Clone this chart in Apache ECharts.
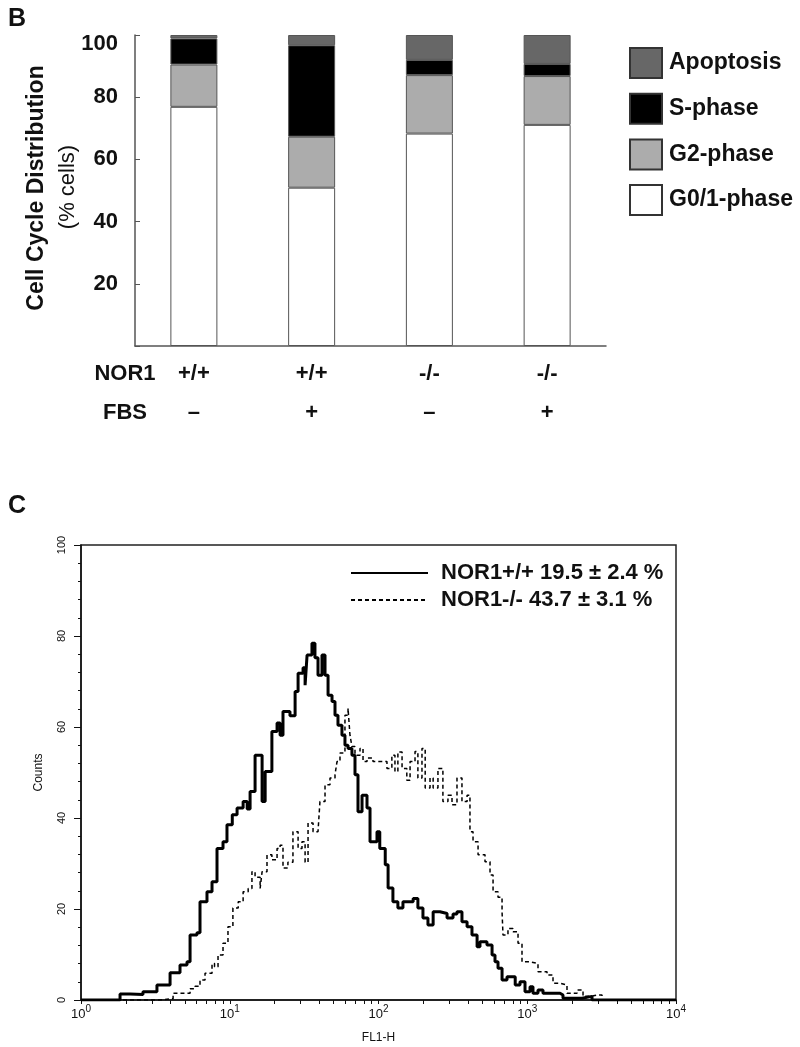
<!DOCTYPE html>
<html>
<head>
<meta charset="utf-8">
<style>
  html, body { margin: 0; padding: 0; background: #fff; }
  #chart { width: 800px; height: 1047px; }
</style>
<script src="https://cdn.jsdelivr.net/npm/echarts@6/dist/echarts.min.js"></script>
</head>
<body>
<div id="chart"></div>
<script>
// ---- panel B: cell cycle distribution (% cells) ----
const groups = ['wt-', 'wt+', 'ko-', 'ko+'];
const nor1Labels = ['+/+', '+/+', '-/-', '-/-'];
const fbsLabels = ['–', '+', '–', '+'];
const g01Phase = [76.9, 50.9, 68.3, 71.1];
const g2Phase = [13.6, 16.4, 18.8, 15.7];
const sPhase = [8.4, 29.4, 4.9, 3.9];
const apoptosis = [1.1, 3.3, 8.0, 9.3];

// ---- panel C: FL1-H histograms, [FL1-H, counts] ----
const nor1WtName = 'NOR1+/+ 19.5 ± 2.4 %';
const nor1KoName = 'NOR1-/- 43.7 ± 3.1 %';
const nor1Wt = [
  [1, 0], [1.83, 1.3], [2.14, 1.2], [2.61, 1.8], [3.24, 3.3], [3.97, 6.0], [4.63, 7.7],
  [5.16, 8.4], [5.41, 14.3], [6.02, 14.8], [6.31, 21.6], [7.03, 23.8], [7.6, 26.0],
  [8.21, 33.3], [9.01, 34.8], [9.58, 38.5], [10.4, 40.7], [11.2, 42.2], [12.3, 43.6],
  [13.1, 42.0], [13.7, 45.8], [14.8, 53.8], [16.5, 43.6], [17.3, 50.2], [19.2, 59.0],
  [20.8, 60.9], [21.8, 58.2], [22.8, 63.4], [25.4, 62.5], [27.5, 67.8], [28.8, 71.8],
  [31.1, 73.0], [32.1, 69.2], [33.1, 75.8], [35.7, 78.4], [37.4, 75.2], [39.2, 71.4],
  [41.7, 75.8], [43.7, 71.4], [45.8, 67.0], [48.7, 65.6], [51.0, 62.6], [53.4, 60.4],
  [56.8, 58.2], [59.5, 56.0], [62.4, 55.3], [66.3, 53.8], [69.5, 49.5], [72.8, 41.4],
  [77.5, 45.0], [83.7, 42.2], [87.7, 34.8], [97.7, 37.0], [102, 33.3], [111, 29.7],
  [116, 24.6], [125, 21.6], [135, 20.2], [146, 21.6], [171, 22.3], [184, 20.2],
  [199, 18.0], [215, 16.5], [233, 19.4], [259, 19.0], [289, 18.0], [317, 18.9],
  [337, 19.4], [364, 17.2], [394, 16.1], [425, 14.3], [460, 11.7], [481, 12.8],
  [536, 12.1], [580, 9.9], [607, 8.4], [636, 7.0], [677, 4.4], [731, 5.1], [802, 5.1],
  [830, 3.3], [894, 4.0], [966, 1.8], [1044, 2.9], [1093, 1.5], [1181, 2.2], [1276, 1.5],
  [1661, 1.1], [1739, 0.4], [2334, 0], [2371, 0.8], [2725, 0], [10000, 0]
];
const nor1Ko = [
  [1, 0], [3.4, 0.3], [4.16, 1.5], [4.63, 1.5], [5.41, 2.5], [5.84, 3.0], [6.31, 4.4],
  [6.82, 5.9], [7.6, 8.0], [7.9, 7.3], [8.34, 9.9], [9.01, 12.5], [9.73, 16.1],
  [10.5, 20.2], [11.4, 21.6], [12.3, 23.8], [13.3, 24.5], [14.1, 28.2], [14.8, 27.0],
  [16.0, 24.5], [16.5, 28.2], [17.8, 31.9], [19.2, 30.8], [20.8, 33.3], [21.8, 34.0],
  [22.8, 29.0], [24.6, 30.3], [26.6, 37.0], [28.8, 33.3], [30.6, 34.8], [32.1, 30.3],
  [33.6, 38.9], [36.3, 37.0], [39.2, 36.6], [40.4, 43.6], [43.7, 47.3], [47.2, 48.8],
  [51.0, 49.5], [52.6, 52.4], [55.1, 54.3], [59.5, 62.6], [62.4, 64.1], [64.3, 58.2],
  [66.3, 55.7], [69.5, 53.8], [75.1, 55.3], [78.7, 52.4], [83.7, 53.2], [91.8, 52.4],
  [102, 52.4], [114, 50.9], [123, 53.8], [129, 50.2], [135, 54.5], [144, 50.9],
  [155, 48.3], [163, 52.4], [176, 54.6], [184, 48.8], [196, 55.3], [206, 46.6],
  [222, 48.8], [233, 46.6], [251, 50.9], [271, 43.6], [293, 45.0], [312, 42.9],
  [337, 48.8], [364, 43.6], [394, 45.0], [412, 37.0], [432, 34.8], [467, 31.9],
  [520, 30.4], [562, 27.5], [589, 23.8], [636, 22.6], [677, 19.4], [687, 14.3],
  [742, 15.7], [802, 15.0], [867, 12.5], [922, 8.4], [1044, 8.0], [1181, 6.2],
  [1358, 5.5], [1490, 3.7], [1661, 3.3], [1850, 1.5], [2160, 2.2], [2371, 0.8],
  [2642, 1.1], [2989, 1.1], [3181, 0], [10000, 0]
];

// log minor ticks 1..9 per decade
const logTicks = [];
for (const d of [1, 10, 100, 1000]) {
  for (let m = 1; m < 10; m++) logTicks.push(d * m);
}
logTicks.push(10000);

const FONT = '"Liberation Sans", Arial, Helvetica, sans-serif';

const chart = echarts.init(document.getElementById('chart'));

function txt(text, x, y, size, weight, rot) {
  return {
    type: 'text', x: x, y: y, rotation: rot || 0,
    style: {
      text: text, fill: '#111', font: weight + ' ' + size + 'px ' + FONT,
      align: 'center', verticalAlign: 'middle',
      textAlign: 'center', textVerticalAlign: 'middle'
    }
  };
}

const barStyle = (color) => ({ color: color, borderColor: '#555', borderWidth: 1 });

const option = {
  animation: false,
  backgroundColor: '#fff',
  textStyle: { fontFamily: FONT },
  grid: [
    { left: 135, right: 194, top: 35, height: 311 },
    { left: 81, right: 124, top: 545, height: 455, show: true, borderColor: '#222', borderWidth: 1.5 }
  ],
  legend: [
    {
      data: ['Apoptosis', 'S-phase', 'G2-phase', 'G0/1-phase'],
      orient: 'vertical', left: 624, top: 42,
      itemWidth: 32, itemHeight: 30, itemGap: 13.7,
      icon: 'rect',
      itemStyle: { borderColor: '#333', borderWidth: 2 },
      textStyle: { fontSize: 23, fontWeight: 'bold', color: '#111', padding: [0, 0, 0, 2] }
    },
    {
      data: [nor1WtName, nor1KoName],
      orient: 'vertical', left: 345, top: 557,
      itemWidth: 77, itemHeight: 23, itemGap: 5,
      itemStyle: { opacity: 0 },
      textStyle: { fontSize: 22, fontWeight: 'bold', color: '#111', padding: [0, 0, 0, 8] }
    }
  ],
  xAxis: [
    {
      type: 'category', gridIndex: 0, data: groups,
      axisLine: { lineStyle: { color: '#555', width: 1.5 } },
      axisTick: { inside: true, length: 5, lineStyle: { color: '#555' } },
      axisLabel: {
        margin: 8, fontSize: 22, fontWeight: 'bold', color: '#111', lineHeight: 39,
        formatter: (v, i) => nor1Labels[i] + '\n' + fbsLabels[i]
      }
    },
    {
      type: 'log', gridIndex: 1, logBase: 10, min: 1, max: 10000,
      name: 'FL1-H', nameLocation: 'middle', nameGap: 32,
      nameTextStyle: { fontSize: 12, color: '#111' },
      axisLine: { lineStyle: { color: '#111', width: 1.5 } },
      axisTick: { length: 4, customValues: logTicks, lineStyle: { color: '#111' } },
      splitLine: { show: false },
      axisLabel: {
        margin: 4, color: '#111',
        formatter: (v) => '{b|10}{s|' + Math.round(Math.log10(v)) + '}',
        rich: {
          b: { fontSize: 13, color: '#111', verticalAlign: 'bottom' },
          s: { fontSize: 10, color: '#111', verticalAlign: 'bottom', padding: [0, 0, 7, 0] }
        }
      }
    }
  ],
  yAxis: [
    {
      type: 'value', gridIndex: 0, min: 0, max: 100, interval: 20,
      axisLine: { show: true, lineStyle: { color: '#555', width: 1.5 } },
      axisTick: { show: true, inside: true, length: 5, lineStyle: { color: '#555' } },
      splitLine: { show: false },
      axisLabel: {
        margin: 17, fontSize: 22, fontWeight: 'bold', color: '#111',
        formatter: (v) => (v === 0 ? '' : v === 100 ? '{t|100}' : v),
        rich: { t: { fontSize: 22, fontWeight: 'bold', color: '#111', padding: [18, 0, 0, 0] } }
      }
    },
    {
      type: 'value', gridIndex: 1, min: 0, max: 100, interval: 20,
      name: 'Counts', nameLocation: 'middle', nameGap: 36, nameRotate: 90,
      nameTextStyle: { fontSize: 12, color: '#111' },
      axisLine: { show: true, lineStyle: { color: '#111', width: 1.5 } },
      axisTick: { show: true, length: 7, lineStyle: { color: '#111' } },
      minorTick: { show: true, splitNumber: 5, length: 3, lineStyle: { color: '#111' } },
      splitLine: { show: false },
      axisLabel: { rotate: 90, margin: 14, fontSize: 11, color: '#111' }
    }
  ],
  series: [
    { name: 'G0/1-phase', type: 'bar', stack: 'cc', barWidth: 47, data: g01Phase, itemStyle: barStyle('#ffffff') },
    { name: 'G2-phase', type: 'bar', stack: 'cc', barWidth: 47, data: g2Phase, itemStyle: barStyle('#acacac') },
    { name: 'S-phase', type: 'bar', stack: 'cc', barWidth: 47, data: sPhase, itemStyle: barStyle('#000000') },
    { name: 'Apoptosis', type: 'bar', stack: 'cc', barWidth: 47, data: apoptosis, itemStyle: barStyle('#676767') },
    {
      name: nor1WtName, type: 'line', xAxisIndex: 1, yAxisIndex: 1, step: 'end',
      symbol: 'none', data: nor1Wt, z: 3,
      lineStyle: { color: '#000', width: 3 }, itemStyle: { color: '#000' }
    },
    {
      name: nor1KoName, type: 'line', xAxisIndex: 1, yAxisIndex: 1, step: 'end',
      symbol: 'none', data: nor1Ko, z: 2,
      lineStyle: { color: '#000', width: 1.5, type: [4, 3] }, itemStyle: { color: '#000' }
    }
  ],
  graphic: [
    txt('B', 17, 19, 25, 'bold'),
    txt('C', 17, 506, 25, 'bold'),
    txt('NOR1', 125, 374, 22, 'bold'),
    txt('FBS', 125, 413, 22, 'bold'),
    txt('Cell Cycle Distribution', 37, 188, 23, 'bold', Math.PI / 2),
    txt('(% cells)', 68, 187, 22, 'normal', Math.PI / 2)
  ]
};

chart.setOption(option);
</script>
</body>
</html>
